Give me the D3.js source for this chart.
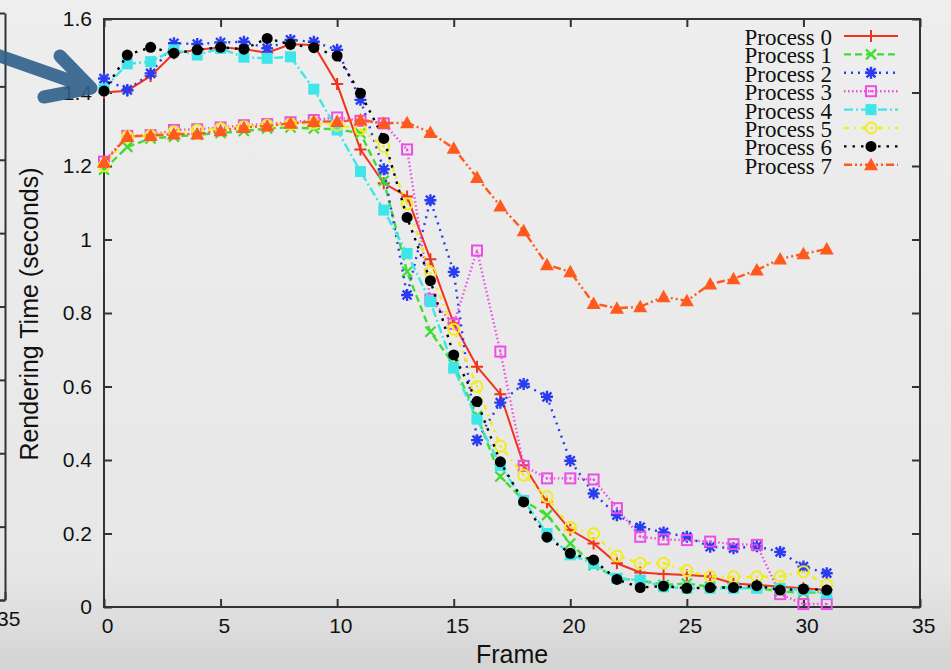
<!DOCTYPE html>
<html>
<head>
<meta charset="utf-8">
<script src="https://cdn.jsdelivr.net/npm/d3@7"></script>
<style>
  body { margin: 0; background: #e8e8e8; }
  svg { display: block; }
</style>
</head>
<body>
<script>
// frames along the x axis
var frames = [0,1,2,3,4,5,6,7,8,9,10,11,12,13,14,15,16,17,18,19,20,21,22,23,24,25,26,27,28,29,30,31];

// rendering time per frame (seconds), one array per process
var process0 = [1.400,1.405,1.445,1.507,1.516,1.523,1.518,1.508,1.531,1.529,1.423,1.245,1.153,1.117,0.946,0.772,0.654,0.579,0.386,0.285,0.210,0.173,0.119,0.094,0.090,0.087,0.083,0.064,0.060,0.055,0.051,0.046];
var process1 = [1.190,1.252,1.275,1.280,1.285,1.290,1.295,1.302,1.305,1.302,1.300,1.289,1.160,0.912,0.749,0.660,0.520,0.355,0.290,0.250,0.173,0.114,0.078,0.073,0.060,0.064,0.055,0.052,0.052,0.042,0.039,0.039];
var process2 = [1.438,1.407,1.452,1.534,1.532,1.536,1.538,1.520,1.543,1.538,1.516,1.380,1.191,0.849,1.107,0.912,0.454,0.556,0.607,0.572,0.398,0.309,0.250,0.217,0.203,0.191,0.164,0.160,0.165,0.150,0.110,0.092];
var process3 = [1.212,1.282,1.284,1.298,1.300,1.305,1.311,1.314,1.319,1.325,1.332,1.323,1.316,1.245,0.837,0.770,0.970,0.695,0.384,0.350,0.350,0.347,0.269,0.191,0.184,0.182,0.178,0.171,0.169,0.035,0.008,0.008];
var process4 = [1.410,1.478,1.484,1.516,1.502,1.520,1.496,1.493,1.497,1.409,1.298,1.185,1.080,0.962,0.831,0.650,0.511,0.385,0.290,0.200,0.142,0.118,0.078,0.073,0.055,0.051,0.051,0.051,0.051,0.051,0.046,0.037];
var process5 = [1.200,1.280,1.283,1.293,1.297,1.302,1.307,1.311,1.314,1.316,1.311,1.300,1.253,1.097,0.910,0.756,0.600,0.438,0.359,0.300,0.217,0.199,0.139,0.119,0.119,0.099,0.083,0.082,0.082,0.083,0.096,0.060];
var process6 = [1.404,1.502,1.523,1.507,1.516,1.523,1.518,1.547,1.531,1.522,1.499,1.398,1.275,1.060,0.888,0.686,0.559,0.395,0.286,0.190,0.146,0.128,0.075,0.053,0.057,0.051,0.053,0.053,0.058,0.046,0.049,0.046];
var process7 = [1.210,1.280,1.283,1.287,1.287,1.296,1.305,1.309,1.316,1.321,1.321,1.325,1.316,1.318,1.291,1.248,1.169,1.091,1.024,0.931,0.912,0.826,0.813,0.817,0.844,0.833,0.879,0.893,0.917,0.947,0.961,0.974];

var seriesNames = ["Process 0","Process 1","Process 2","Process 3","Process 4","Process 5","Process 6","Process 7"];
var seriesValues = [process0, process1, process2, process3, process4, process5, process6, process7];

// tick labels
var xTicks = [0,5,10,15,20,25,30,35];
var yTicks = [0,0.2,0.4,0.6,0.8,1,1.2,1.4,1.6];

// gnuplot-like styles per process
var colors = ["#f0321e","#3fdc33","#2a3cf0","#ec4ee6","#3ee6ea","#f0ec1e","#000000","#ff5a1e"];
var dashes = [null,"7,4","2,5","1.5,2.5","9,3,2,3","5,5,2,5","2.5,6","8,3,2,3,2,3"];
var symbols = ["plus","cross","star","boxDot","box","circleDot","dot","triangle"];

var width = 951, height = 670;
var plot = {left: 104, right: 920, top: 19, bottom: 607};

var svg = d3.select("body").append("svg")
    .attr("width", width)
    .attr("height", height);

// background (grey slide texture approximated with a gradient)
var grad = svg.append("defs").append("linearGradient")
    .attr("id", "bg").attr("x1", 0).attr("y1", 0).attr("x2", 0).attr("y2", 1);
grad.append("stop").attr("offset", "0%").attr("stop-color", "#eeeeee");
grad.append("stop").attr("offset", "85%").attr("stop-color", "#e7e7e7");
grad.append("stop").attr("offset", "93%").attr("stop-color", "#dddddd");
grad.append("stop").attr("offset", "100%").attr("stop-color", "#d3d3d3");
svg.append("rect").attr("width", width).attr("height", height).attr("fill", "url(#bg)");

var xScale = d3.scaleLinear().domain([0, 35]).range([plot.left, plot.right]);
var yScale = d3.scaleLinear().domain([0, 1.6]).range([plot.bottom, plot.top]);

var tickFont = "'Liberation Sans', Arial, Helvetica, sans-serif";
var axisColor = "#333";

// the previous chart peeking in at the left edge
var leftY = d3.scaleLinear().domain([0, 1.6]).range([600, 13]);
var leftX = d3.scaleLinear().domain([0, 35]).range([-811, 5]);
var leftAxisY = svg.append("g")
    .attr("transform", "translate(5,0)")
    .call(d3.axisLeft(leftY).tickValues(yTicks).tickSize(8).tickSizeOuter(0).tickFormat(""));
var leftAxisX = svg.append("g")
    .attr("transform", "translate(0,600)")
    .call(d3.axisBottom(leftX).tickValues([35]).tickSize(-8).tickSizeOuter(0).tickPadding(11));
[leftAxisY, leftAxisX].forEach(function(g) {
    g.selectAll("path, line").attr("stroke", axisColor).attr("stroke-width", 2);
    g.selectAll("text").attr("font-family", tickFont).attr("font-size", 21)
        .attr("fill", "#111").attr("dx", "0.15em");
});

// frame and mirrored ticks
svg.append("rect")
    .attr("x", plot.left).attr("y", plot.top)
    .attr("width", plot.right - plot.left).attr("height", plot.bottom - plot.top)
    .attr("fill", "none").attr("stroke", axisColor).attr("stroke-width", 2);

var axes = [
    svg.append("g").attr("transform", "translate(0," + plot.bottom + ")")
        .call(d3.axisBottom(xScale).tickValues(xTicks).tickSize(-8).tickSizeOuter(0).tickPadding(11)
            .tickFormat(function(d) { return String(d); })),
    svg.append("g").attr("transform", "translate(0," + plot.top + ")")
        .call(d3.axisTop(xScale).tickValues(xTicks).tickSize(-8).tickSizeOuter(0).tickFormat("")),
    svg.append("g").attr("transform", "translate(" + plot.left + ",0)")
        .call(d3.axisLeft(yScale).tickValues(yTicks).tickSize(-8).tickSizeOuter(0).tickPadding(12)
            .tickFormat(function(d) { return String(d); })),
    svg.append("g").attr("transform", "translate(" + plot.right + ",0)")
        .call(d3.axisRight(yScale).tickValues(yTicks).tickSize(-8).tickSizeOuter(0).tickFormat(""))
];
axes.forEach(function(g) {
    g.select(".domain").remove();
    g.selectAll("line").attr("stroke", axisColor).attr("stroke-width", 2);
    g.selectAll("text").attr("font-family", tickFont).attr("font-size", 21).attr("fill", "#111");
});
axes[0].selectAll("text").attr("dx", "0.15em");

// axis titles
svg.append("text")
    .attr("x", 512).attr("y", 663)
    .attr("text-anchor", "middle")
    .attr("font-family", tickFont).attr("font-size", 25).attr("fill", "#111")
    .text("Frame");
svg.append("text")
    .attr("transform", "translate(38,314) rotate(-90)")
    .attr("text-anchor", "middle")
    .attr("font-family", tickFont).attr("font-size", 25).attr("fill", "#111")
    .text("Rendering Time (seconds)");

// point symbols
function drawSymbol(g, type, color) {
    var s = 6;
    if (type === "plus") {
        g.append("path").attr("d", "M" + (-s) + ",0H" + s + "M0," + (-s) + "V" + s)
            .attr("stroke", color).attr("stroke-width", 2).attr("fill", "none");
    } else if (type === "cross") {
        g.append("path").attr("d", "M-5,-5L5,5M-5,5L5,-5")
            .attr("stroke", color).attr("stroke-width", 2.2).attr("fill", "none");
    } else if (type === "star") {
        g.append("path").attr("d", "M-6,0H6M0,-6V6M-4.5,-4.5L4.5,4.5M-4.5,4.5L4.5,-4.5")
            .attr("stroke", color).attr("stroke-width", 2.4).attr("fill", "none");
    } else if (type === "boxDot") {
        g.append("rect").attr("x", -5).attr("y", -5).attr("width", 10).attr("height", 10)
            .attr("stroke", color).attr("stroke-width", 2).attr("fill", "none");
        g.append("rect").attr("x", -1).attr("y", -1).attr("width", 2).attr("height", 2).attr("fill", color);
    } else if (type === "box") {
        g.append("rect").attr("x", -5.5).attr("y", -5.5).attr("width", 11).attr("height", 11)
            .attr("fill", color);
    } else if (type === "circleDot") {
        g.append("circle").attr("r", 5.5)
            .attr("stroke", color).attr("stroke-width", 2).attr("fill", "none");
        g.append("circle").attr("r", 1.2).attr("fill", color);
    } else if (type === "dot") {
        g.append("circle").attr("r", 5.5).attr("fill", color);
    } else if (type === "triangle") {
        g.append("path").attr("d", "M0,-7L7,5.5L-7,5.5Z").attr("fill", color);
    }
}

var line = d3.line()
    .x(function(d, i) { return xScale(frames[i]); })
    .y(function(d) { return yScale(d); });

seriesValues.forEach(function(values, k) {
    svg.append("path")
        .datum(values)
        .attr("d", line)
        .attr("fill", "none")
        .attr("stroke", colors[k])
        .attr("stroke-width", k === 0 ? 2 : 2.4)
        .attr("stroke-dasharray", dashes[k]);
    svg.selectAll(".pt" + k)
        .data(values)
        .enter().append("g")
        .attr("class", "pt" + k)
        .attr("transform", function(d, i) { return "translate(" + xScale(frames[i]) + "," + yScale(d) + ")"; })
        .each(function() { drawSymbol(d3.select(this), symbols[k], colors[k]); });
});

// legend
var legend = svg.selectAll(".legend")
    .data(seriesNames)
    .enter().append("g")
    .attr("class", "legend")
    .attr("transform", function(d, i) { return "translate(0," + (36 + i * 18.4) + ")"; });

legend.append("text")
    .attr("x", 832).attr("y", 9)
    .attr("text-anchor", "end")
    .attr("font-family", "'Liberation Serif', 'Times New Roman', serif")
    .attr("font-size", 23).attr("fill", "#111")
    .text(function(d) { return d; });

legend.append("line")
    .attr("x1", 844).attr("x2", 898)
    .attr("stroke", function(d, i) { return colors[i]; })
    .attr("stroke-width", function(d, i) { return i === 0 ? 2 : 2.4; })
    .attr("stroke-dasharray", function(d, i) { return dashes[i]; });

legend.append("g")
    .attr("transform", "translate(871,0)")
    .each(function(d, i) { drawSymbol(d3.select(this), symbols[i], colors[i]); });

// blue pointer arrow from the slide
svg.append("path")
    .attr("d", "M-12,52L91,88M60,56L91,88L44,97")
    .attr("fill", "none")
    .attr("stroke", "#2f5f8c")
    .attr("stroke-opacity", 0.9)
    .attr("stroke-width", 13)
    .attr("stroke-linecap", "round")
    .attr("stroke-linejoin", "round");
</script>
</body>
</html>
